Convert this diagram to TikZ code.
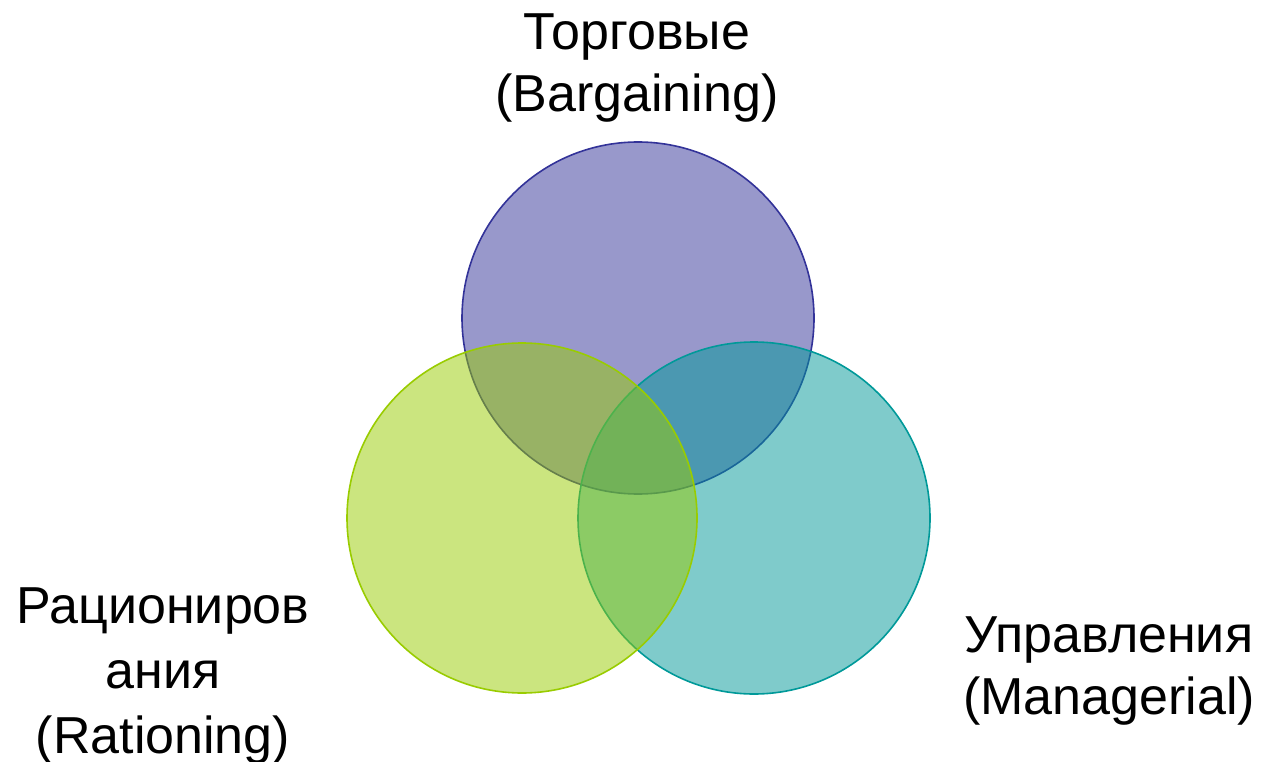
\documentclass[tikz,border=0pt]{standalone}
\usepackage{fontspec}
\setmainfont{Liberation Sans}
\definecolor{cTop}{RGB}{51,51,153}
\definecolor{cLeft}{RGB}{153,204,0}
\definecolor{cRight}{RGB}{0,153,153}
\begin{document}
\begin{tikzpicture}[x=1pt,y=-1pt,
  venn/.style={draw=#1,fill=#1,fill opacity=0.5,line width=1.6pt},
  lbl/.style={anchor=base,inner sep=0pt,font=\fontsize{52}{62}\selectfont}]
\useasboundingbox[fill=white] (0,0) rectangle (1267,762);
\path[venn=cTop] (638,318) circle[radius=176];
\path[venn=cRight] (754,518) circle[radius=176];
\path[venn=cLeft] (522,518) circle[radius=175];
\node[lbl] (t1) at (637,50) {Торговые};
\node[lbl] (t2) at (637,112) {(Bargaining)};
\node[lbl] (l1) at (163,623) {Рационир{ов}};
\node[lbl] (l2) at (163,688) {ания};
\node[lbl] (l3) at (163,753) {(Rationing)};
\node[lbl] (r1) at (1109,652) {Управления};
\node[lbl] (r2) at (1109,714) {(Managerial)};
\end{tikzpicture}
\end{document}
